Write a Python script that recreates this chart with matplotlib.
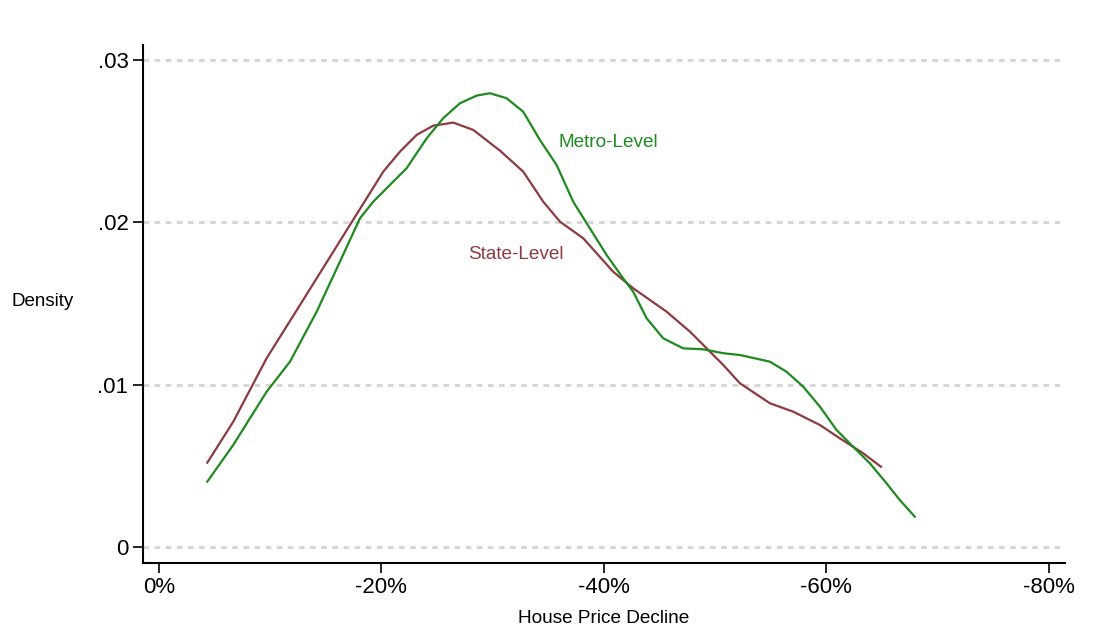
import matplotlib.pyplot as plt

# house price decline (percent, positive = decline) and kernel density
metro_x = [4.37, 6.70, 9.70, 11.80, 14.20, 16.29, 18.09, 19.28, 20.78, 22.28,
           24.08, 25.57, 27.07, 28.57, 29.77, 31.27, 32.76, 34.26, 35.76, 37.25,
           38.75, 40.25, 41.74, 42.64, 43.85, 45.34, 47.13, 48.93, 50.73, 52.23,
           54.92, 56.42, 57.92, 59.42, 60.92, 62.41, 63.91, 65.41, 66.60, 67.95]
metro_y = [0.00404, 0.00630, 0.00958, 0.01143, 0.01451, 0.01759, 0.02026, 0.02128,
           0.02231, 0.02334, 0.02518, 0.02642, 0.02734, 0.02781, 0.02796, 0.02765,
           0.02682, 0.02508, 0.02354, 0.02128, 0.01964, 0.01800, 0.01656, 0.01574,
           0.01410, 0.01287, 0.01225, 0.01219, 0.01195, 0.01184, 0.01143, 0.01081,
           0.00989, 0.00866, 0.00722, 0.00619, 0.00517, 0.00394, 0.00291, 0.00188]

state_x = [4.37, 6.70, 9.70, 12.70, 15.69, 17.19, 18.69, 20.18, 21.68, 23.18,
           24.67, 26.47, 28.27, 29.77, 30.66, 32.76, 34.56, 36.06, 38.15, 40.84,
           42.64, 45.64, 47.74, 49.24, 50.73, 52.23, 54.92, 57.02, 59.42, 61.21,
           63.31, 64.90]
state_y = [0.00521, 0.00773, 0.01164, 0.01492, 0.01820, 0.01985, 0.02149, 0.02313,
           0.02436, 0.02539, 0.02596, 0.02615, 0.02570, 0.02490, 0.02443, 0.02313,
           0.02128, 0.02005, 0.01903, 0.01697, 0.01595, 0.01451, 0.01328, 0.01225,
           0.01123, 0.01010, 0.00887, 0.00835, 0.00753, 0.00671, 0.00579, 0.00496]

x_ticks = [0, 20, 40, 60, 80]
x_labels = ["0%", "-20%", "-40%", "-60%", "-80%"]
y_ticks = [0, 0.01, 0.02, 0.03]
y_labels = ["0", ".01", ".02", ".03"]

green = "#1f8a1f"
maroon = "#8c3b40"

plt.rcParams['font.family'] = ['Liberation Sans', 'DejaVu Sans']

fig = plt.figure(figsize=(11, 6.38), dpi=100)
ax = fig.add_axes([0.13, 0.1176, 0.838, 0.8119])

for y in y_ticks:
    ax.axhline(y, color="#d4d4d4", lw=2, ls=(0, (2, 2)), zorder=0)

ax.plot(state_x, state_y, color=maroon, lw=1.6, solid_joinstyle="round")
ax.plot(metro_x, metro_y, color=green, lw=1.6, solid_joinstyle="round")

ax.text(35.9, 0.0249, "Metro-Level", color=green, fontsize=13.7, va="center")
ax.text(27.8, 0.0180, "State-Level", color=maroon, fontsize=13.7, va="center")

ax.set_xlim(-1.41, 81.43)
ax.set_ylim(-0.000967, 0.03093)
ax.set_xticks(x_ticks)
ax.set_xticklabels(x_labels)
ax.set_yticks(y_ticks)
ax.set_yticklabels(y_labels)
ax.tick_params(labelsize=16, length=7, width=1.2, direction="out", color="black")
ax.tick_params(axis="x", pad=3)

for side in ["top", "right"]:
    ax.spines[side].set_visible(False)
for side in ["left", "bottom"]:
    ax.spines[side].set_linewidth(1.5)

ax.set_xlabel("House Price Decline", fontsize=13.7, labelpad=9)
fig.text(0.039, 0.528, "Density", fontsize=13.5, ha="center", va="center")

fig.savefig("out.png", dpi=100)
